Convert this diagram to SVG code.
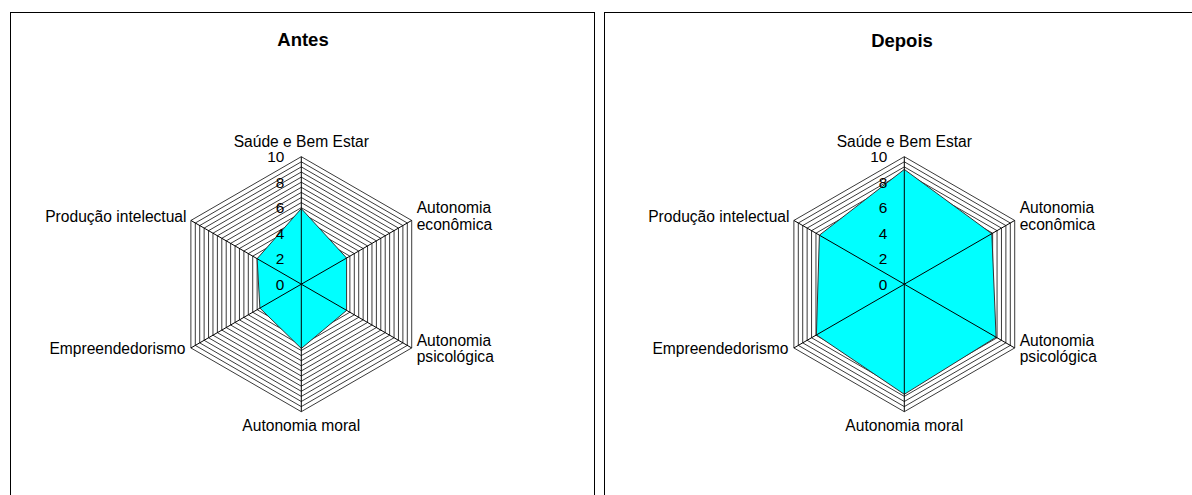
<svg xmlns="http://www.w3.org/2000/svg" xmlns:xlink="http://www.w3.org/1999/xlink" width="1192" height="495" viewBox="0 0 1192 495">
<style>
text{font-family:"Liberation Sans",Arial,sans-serif;fill:#000}
.lab{font-size:15.6px}
.ax{font-size:15.4px;text-anchor:end}
.title{font-size:18.5px;font-weight:bold;text-anchor:middle}
.mid{text-anchor:middle}
.end{text-anchor:end}
.panel{fill:#fff;stroke:#000;stroke-width:1}
.grid path{fill:none;stroke:#3a3a3a;stroke-width:1}
.spoke{stroke:#000;stroke-width:1;fill:none}
.data{fill:#00ffff;stroke:#333;stroke-width:1;stroke-linejoin:miter}
</style>
<defs>
<g id="grid" class="grid">
<path d="M0,-5.1l-4.417,2.55v5.1l4.417,2.55l4.417,-2.55v-5.1z"/>
<path d="M0,-10.2l-8.833,5.1v10.2l8.833,5.1l8.833,-5.1v-10.2z"/>
<path d="M0,-15.3l-13.25,7.65v15.3l13.25,7.65l13.25,-7.65v-15.3z"/>
<path d="M0,-20.4l-17.666,10.2v20.4l17.666,10.2l17.666,-10.2v-20.4z"/>
<path d="M0,-25.5l-22.083,12.75v25.5l22.083,12.75l22.083,-12.75v-25.5z"/>
<path d="M0,-30.6l-26.5,15.3v30.6l26.5,15.3l26.5,-15.3v-30.6z"/>
<path d="M0,-35.7l-30.916,17.85v35.7l30.916,17.85l30.916,-17.85v-35.7z"/>
<path d="M0,-40.8l-35.333,20.4v40.8l35.333,20.4l35.333,-20.4v-40.8z"/>
<path d="M0,-45.9l-39.749,22.95v45.9l39.749,22.95l39.749,-22.95v-45.9z"/>
<path d="M0,-51l-44.166,25.5v51l44.166,25.5l44.166,-25.5v-51z"/>
<path d="M0,-56.1l-48.583,28.05v56.1l48.583,28.05l48.583,-28.05v-56.1z"/>
<path d="M0,-61.2l-52.999,30.6v61.2l52.999,30.6l52.999,-30.6v-61.2z"/>
<path d="M0,-66.3l-57.416,33.15v66.3l57.416,33.15l57.416,-33.15v-66.3z"/>
<path d="M0,-71.4l-61.832,35.7v71.4l61.832,35.7l61.832,-35.7v-71.4z"/>
<path d="M0,-76.5l-66.249,38.25v76.5l66.249,38.25l66.249,-38.25v-76.5z"/>
<path d="M0,-81.6l-70.666,40.8v81.6l70.666,40.8l70.666,-40.8v-81.6z"/>
<path d="M0,-86.7l-75.082,43.35v86.7l75.082,43.35l75.082,-43.35v-86.7z"/>
<path d="M0,-91.8l-79.499,45.9v91.8l79.499,45.9l79.499,-45.9v-91.8z"/>
<path d="M0,-96.9l-83.915,48.45v96.9l83.915,48.45l83.915,-48.45v-96.9z"/>
<path d="M0,-102l-88.332,51v102l88.332,51l88.332,-51v-102z"/>
<path d="M0,-107.1l-92.749,53.55v107.1l92.749,53.55l92.749,-53.55v-107.1z"/>
<path d="M0,-112.2l-97.165,56.1v112.2l97.165,56.1l97.165,-56.1v-112.2z"/>
<path d="M0,-117.3l-101.582,58.65v117.3l101.582,58.65l101.582,-58.65v-117.3z"/>
<path d="M0,-122.4l-105.998,61.2v122.4l105.998,61.2l105.998,-61.2v-122.4z"/>
<path d="M0,-127.5l-110.415,63.75v127.5l110.415,63.75l110.415,-63.75v-127.5z"/>
</g>
<path id="spokes" class="spoke" d="M0,0V-127.5M0,0L-110.415,-63.75M0,0L-110.415,63.75M0,0V127.5M0,0L110.415,63.75M0,0L110.415,-63.75"/>
<g id="axislabels">
<text class="ax" x="-17" y="5.3">0</text>
<text class="ax" x="-17" y="-20.2">2</text>
<text class="ax" x="-17" y="-45.7">4</text>
<text class="ax" x="-17" y="-71.2">6</text>
<text class="ax" x="-17" y="-96.7">8</text>
<text class="ax" x="-17" y="-122.2">10</text>
</g>
<g id="varlabels" class="lab">
<text class="lab mid" x="0" y="-137.5">Saúde e Bem Estar</text>
<text class="lab end" x="-114.8" y="-62.5">Produção intelectual</text>
<text class="lab end" x="-115.8" y="70.1">Empreendedorismo</text>
<text class="lab mid" x="0" y="146.5">Autonomia moral</text>
<text class="lab" x="115.4" y="61.5">Autonomia</text>
<text class="lab" x="115.4" y="77.8">psicológica</text>
<text class="lab" x="115.4" y="-70.9">Autonomia</text>
<text class="lab" x="115.4" y="-54.2">econômica</text>
</g>
</defs>

<g id="panel-antes">
<rect class="panel" x="10.5" y="12.5" width="584" height="500"/>
<text class="title" x="303" y="46">Antes</text>
</g>
<g id="panel-depois">
<rect class="panel" x="604.5" y="12.5" width="600" height="500"/>
<text class="title" x="902" y="47">Depois</text>
</g>

<g id="chart-antes" transform="translate(301.3,284.2)">
<use xlink:href="#grid"/>
<polygon id="data-antes" class="data" points="0,-75.6 -44.2,-25.5 -41.4,23.9 0,64.3 45.3,26.2 45.3,-26.2"/>
<use xlink:href="#spokes"/>
<use xlink:href="#axislabels"/>
<use xlink:href="#varlabels"/>
</g>

<g id="chart-depois" transform="translate(904.3,284.2)">
<use xlink:href="#grid"/>
<polygon id="data-depois" class="data" points="0,-114.8 -84.9,-49 -87.9,50.7 0,110.1 91.8,53 87.5,-50.5"/>
<use xlink:href="#spokes"/>
<use xlink:href="#axislabels"/>
<use xlink:href="#varlabels"/>
</g>
</svg>
